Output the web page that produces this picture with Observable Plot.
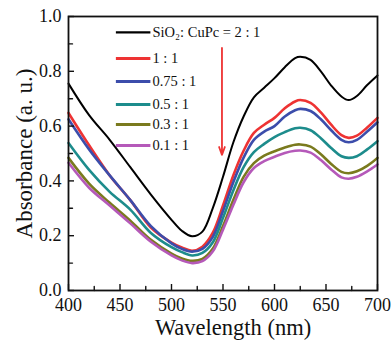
<!DOCTYPE html>
<html>
<head>
<meta charset="utf-8">
<script src="https://cdn.jsdelivr.net/npm/d3@7"></script>
<script src="https://cdn.jsdelivr.net/npm/@observablehq/plot@0.6"></script>
<style>
  html, body { margin: 0; padding: 0; background: #fff; }
</style>
</head>
<body>
<div id="chart"></div>
<script>
// Wavelength grid (nm)
const wavelength = [400,420,440,460,480,500,510,520,530,540,550,560,570,580,590,600,610,620,625,635,645,655,665,672,680,690,700];

// Absorbance series (a. u.)
const s2_1   = [0.755,0.64,0.55,0.45,0.35,0.258,0.218,0.198,0.215,0.30,0.415,0.54,0.635,0.705,0.74,0.775,0.815,0.848,0.853,0.842,0.80,0.748,0.708,0.695,0.71,0.75,0.785];
const s1_1   = [0.648,0.53,0.42,0.33,0.23,0.175,0.157,0.145,0.16,0.21,0.31,0.42,0.51,0.575,0.605,0.63,0.665,0.69,0.695,0.685,0.65,0.605,0.567,0.557,0.565,0.595,0.63];
const s075_1 = [0.625,0.515,0.42,0.33,0.235,0.172,0.152,0.142,0.152,0.195,0.29,0.395,0.485,0.55,0.58,0.60,0.635,0.658,0.663,0.655,0.625,0.585,0.55,0.541,0.55,0.58,0.614];
const s05_1  = [0.538,0.44,0.36,0.295,0.21,0.158,0.14,0.128,0.137,0.175,0.265,0.365,0.45,0.505,0.535,0.56,0.578,0.592,0.594,0.585,0.556,0.52,0.49,0.484,0.49,0.515,0.545];
const s03_1  = [0.484,0.39,0.32,0.255,0.185,0.135,0.117,0.108,0.115,0.152,0.235,0.33,0.415,0.465,0.492,0.508,0.522,0.532,0.533,0.525,0.497,0.462,0.433,0.428,0.435,0.455,0.484];
const s01_1  = [0.466,0.375,0.31,0.245,0.178,0.128,0.11,0.10,0.107,0.142,0.222,0.312,0.395,0.447,0.472,0.488,0.502,0.51,0.511,0.503,0.476,0.442,0.413,0.408,0.415,0.435,0.46];

const seriesLabels = ["SiO\u2082: CuPc = 2 : 1", "1 : 1", "0.75 : 1", "0.5 : 1", "0.3 : 1", "0.1 : 1"];
const seriesValues = [s2_1, s1_1, s075_1, s05_1, s03_1, s01_1];
const seriesColors = ["#000000", "#ee3333", "#3c4dab", "#1d8c8c", "#7a7a1e", "#b559b9"];
const seriesWidths = [2, 2.6, 2.6, 2.6, 2.6, 2.6];

// Axis ticks
const xMajor = [400, 450, 500, 550, 600, 650, 700];
const xMinor = [425, 475, 525, 575, 625, 675];
const yMajor = [0.0, 0.2, 0.4, 0.6, 0.8, 1.0];
const yMinor = [0.1, 0.3, 0.5, 0.7, 0.9];

// Annotation: legend rows (data coords) and red arrow
const legendLineX = [446, 479.5];
const legendTextX = 481.5;
const legendRowY = [0.942, 0.847, 0.763, 0.679, 0.606, 0.529];
const arrowData = [{x: 549, y1: 0.885, y2: 0.495}];

const serif = "'Liberation Serif', 'Times New Roman', 'DejaVu Serif', serif";

const rows = [];
seriesLabels.forEach((name, i) => {
  wavelength.forEach((w, j) => rows.push({series: name, i, wl: w, a: seriesValues[i][j]}));
});

const tickShape = {draw(context, l) { context.moveTo(0, 0); context.lineTo(0, -l); }};

const marks = [];
seriesLabels.forEach((name, i) => {
  marks.push(Plot.line(rows.filter(r => r.i === i), {
    x: "wl", y: "a", stroke: seriesColors[i], strokeWidth: seriesWidths[i], curve: "catmull-rom"
  }));
  marks.push(Plot.link([{i}], {
    x1: legendLineX[0], x2: legendLineX[1], y1: legendRowY[i], y2: legendRowY[i],
    stroke: seriesColors[i], strokeWidth: seriesWidths[i] + 0.4
  }));
  marks.push(Plot.text([name], {
    x: legendTextX, y: legendRowY[i], text: d => d, textAnchor: "start",
    fontSize: 14.5, fontFamily: serif, fill: "#111"
  }));
});

marks.push(Plot.arrow(arrowData, {
  x1: "x", x2: "x", y1: "y1", y2: "y2", stroke: "#ee3333", strokeWidth: 1.8, headLength: 7, headAngle: 40
}));

const chart = Plot.plot({
  width: 392,
  height: 340,
  marginLeft: 68,
  marginRight: 15,
  marginTop: 16,
  marginBottom: 50,
  style: {fontFamily: serif, fontSize: "18px", color: "#111", background: "#fff"},
  x: {domain: [400, 700]},
  y: {domain: [0, 1]},
  marks: [
    ...marks,
    Plot.axisX(xMajor, {tickSize: -6, tickPadding: 14, tickFormat: d => String(d), label: null, strokeWidth: 1.4, fontFamily: serif}),
    Plot.vector(xMinor, {x: d => d, frameAnchor: "bottom", length: 4, rotate: 0, anchor: "start", shape: tickShape, stroke: "#111", strokeWidth: 1.4}),
    Plot.axisY(yMajor, {tickSize: -6, tickPadding: 13, tickFormat: d => d.toFixed(1), label: null, strokeWidth: 1.4, fontFamily: serif}),
    Plot.vector(yMinor, {y: d => d, frameAnchor: "left", length: 4, rotate: 90, anchor: "start", shape: tickShape, stroke: "#111", strokeWidth: 1.4}),
    Plot.frame({stroke: "#111", strokeWidth: 1.8}),
    Plot.text(["Wavelength (nm)"], {frameAnchor: "bottom", text: d => d, textAnchor: "middle", lineAnchor: "middle", dy: 37.5, dx: 10, fontSize: 22.5, fontFamily: serif}),
    Plot.text(["Absorbance (a. u.)"], {frameAnchor: "left", text: d => d, textAnchor: "middle", lineAnchor: "middle", dx: -44, rotate: -90, fontSize: 23, fontFamily: serif})
  ]
});
document.getElementById("chart").appendChild(chart);
</script>
</body>
</html>
